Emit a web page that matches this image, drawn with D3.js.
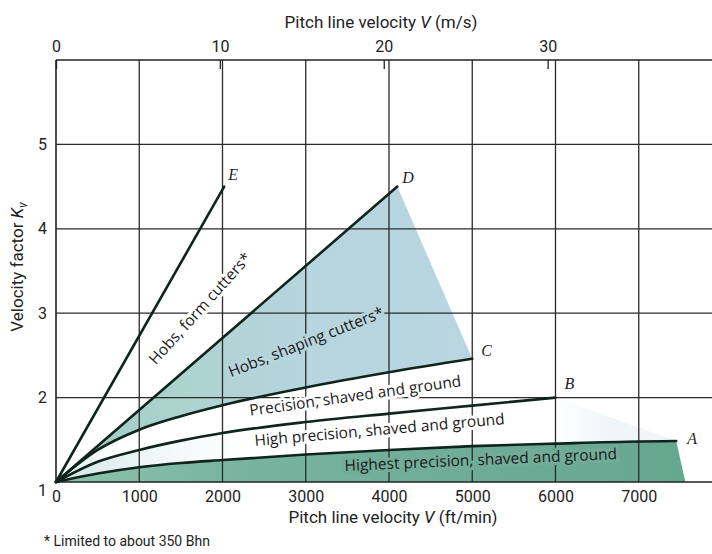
<!DOCTYPE html>
<html><head><meta charset="utf-8">
<script src="https://cdn.jsdelivr.net/npm/d3@7"></script>
<style>
body{margin:0;background:#fff;}
svg{display:block;}
text{font-family:Roboto,"Liberation Sans",sans-serif;fill:#222;}
.lbl{font-family:"Open Sans",sans-serif;font-size:15.5px;fill:#1a1a1a;}
.pt{font-family:"Liberation Serif",serif;font-style:italic;font-size:16px;fill:#1e1e1e;}
</style></head><body>
<svg id="c" width="712" height="554"></svg>
<script>
// ---- data ----
const xTicksFtMin = [0,1000,2000,3000,4000,5000,6000,7000];
const xTicksMs = [0,10,20,30];
const yTicks = [1,2,3,4,5];
// curve A: highest precision
const vA  = [0,500,1000,1500,2000,3000,4000,5000,6000,7000,7450];
const kvA = [1,1.10,1.175,1.225,1.26,1.325,1.38,1.425,1.455,1.48,1.485];
// curve B: high precision
const vB  = [0,500,1000,1500,2000,3000,4000,5000,6000];
const kvB = [1,1.24,1.38,1.49,1.58,1.71,1.81,1.905,2.0];
// curve C: precision
const vC  = [0,500,1000,1500,2000,3000,4000,5000];
const kvC = [1,1.38,1.62,1.78,1.91,2.12,2.30,2.46];
// curve D: hobs, shaping cutters
const vD  = [0,4100];
const kvD = [1,4.5];
// curve E: hobs, form cutters
const vE  = [0,2020];
const kvE = [1,4.5];
// end of shaded "highest precision" zone on the axis
const vAfoot = 7560, kvAfoot = 1;

const svg = d3.select("#c");
const x = d3.scaleLinear().domain([0,8000]).range([56,722]);
const xMs = d3.scaleLinear().domain([0,8000/196.85]).range([56,722]);
const y = d3.scaleLinear().domain([1,6]).range([482,60]);

const pts = (vs,ks)=>vs.map((v,i)=>[v,ks[i]]);
const A = pts(vA,kvA), B = pts(vB,kvB), C = pts(vC,kvC), D = pts(vD,kvD), E = pts(vE,kvE);
const P = d=>[x(d[0]),y(d[1])];

const defs = svg.append("defs");
function grad(id, stops){
  const g = defs.append("linearGradient").attr("id",id).attr("gradientUnits","userSpaceOnUse")
    .attr("x1",x(0)).attr("x2",x(7600)).attr("y1",0).attr("y2",0);
  stops.forEach(s=>g.append("stop").attr("offset",s[0]).attr("stop-color",s[1]));
}
grad("gA",[[0,"#8cc2ae"],[0.3,"#78b39f"],[0.7,"#6dab96"],[1,"#66a790"]]);
grad("gDC",[[0,"#9ccbbf"],[0.2,"#add3cf"],[0.4,"#b6d5de"],[0.7,"#b9d6e2"],[1,"#bcd7e3"]]);
grad("gBA",[[0,"#cfe6e6"],[0.14,"#eef6f6"],[0.3,"#ffffff"],[0.78,"#ffffff"],[0.88,"#f0f5f8"],[1,"#f2f6f9"]]);
grad("gCB",[[0,"#dcecec"],[0.1,"#ffffff"],[1,"#ffffff"]]);

const curve = d3.line().x(d=>x(d[0])).y(d=>y(d[1])).curve(d3.curveMonotoneX);
function sample(arr){
  const out=[];
  const p = document.createElementNS("http://www.w3.org/2000/svg","path");
  p.setAttribute("d", curve(arr)); svg.node().appendChild(p);
  const L = p.getTotalLength();
  for(let i=0;i<=200;i++){const q=p.getPointAtLength(L*i/200); out.push([q.x,q.y]);}
  p.remove(); return out;
}
const sA = sample(A), sB = sample(B), sC = sample(C);
const sD = D.map(P);
const poly = a=>"M"+a.map(p=>p.join(",")).join("L")+"Z";

const fills = svg.append("g");
fills.append("path").attr("d", poly(sA.concat([P([vAfoot,kvAfoot]), P([0,1])]))).attr("fill","url(#gA)");
fills.append("path").attr("d", poly(sB.concat(sA.slice().reverse()))).attr("fill","url(#gBA)");
fills.append("path").attr("d", poly(sC.concat(sB.slice().reverse()))).attr("fill","url(#gCB)");
fills.append("path").attr("d", poly(sD.concat(sC.slice().reverse()))).attr("fill","url(#gDC)");

// grid
const grid = svg.append("g").attr("stroke","#2b2b2b").attr("stroke-width",1.3);
d3.range(1000,8001,1000).forEach(v=>grid.append("line").attr("x1",x(v)).attr("x2",x(v)).attr("y1",y(1)).attr("y2",y(6)));
[2,3,4,5].forEach(k=>grid.append("line").attr("x1",x(0)).attr("x2",x(8000)).attr("y1",y(k)).attr("y2",y(k)));

// curve labels with halos (gaps in grid)
function label(txt, cx, cy, ang, halo){
  return svg.append("text").attr("class","lbl").attr("text-anchor","middle")
    .attr("transform",`translate(${cx},${cy}) rotate(${ang})`)
    .attr("stroke",halo).attr("stroke-width",6).attr("stroke-linejoin","round")
    .attr("paint-order","stroke").text(txt);
}
label("Hobs, form cutters*",204,312,-48,"#ffffff");
label("Hobs, shaping cutters*",308,347,-21.5,"#b7d5dd");
label("Precision, shaved and ground",356,401,-8,"#ffffff");
label("High precision, shaved and ground",380,435,-5,"#ffffff");
label("Highest precision, shaved and ground",481,465,-2.5,"#72ad99");

// borders
const bd = svg.append("g").attr("stroke","#222").attr("stroke-width",1.6);
bd.append("line").attr("x1",x(0)).attr("x2",x(8000)).attr("y1",y(1)).attr("y2",y(1));
bd.append("line").attr("x1",x(0)).attr("x2",x(8000)).attr("y1",y(6)).attr("y2",y(6));
bd.append("line").attr("x1",x(0)).attr("x2",x(0)).attr("y1",y(1)).attr("y2",y(6));

// curves
const cg = svg.append("g").attr("fill","none").attr("stroke","#10241c").attr("stroke-width",2.6).attr("stroke-linecap","round");
[A,B,C,D,E].forEach(c=>cg.append("path").attr("d",curve(c)));

// point letters
const ptl = [["A",vA[vA.length-1],kvA[kvA.length-1],11,3],["B",vB[vB.length-1],kvB[kvB.length-1],9,-9],
  ["C",vC[vC.length-1],kvC[kvC.length-1],9,-3],["D",vD[1],kvD[1],5,-4],["E",vE[1],kvE[1],4,-7]];
ptl.forEach(p=>svg.append("text").attr("class","pt").attr("x",x(p[1])+p[3]).attr("y",y(p[2])+p[4]).text(p[0]));

// axes
const axB = svg.append("g").attr("transform",`translate(0,${y(1)})`)
  .call(d3.axisBottom(x).tickValues(xTicksFtMin).tickSize(0).tickPadding(9).tickFormat(d3.format("d")));
const axT = svg.append("g").attr("transform",`translate(0,${y(6)})`)
  .call(d3.axisTop(xMs).tickValues(xTicksMs).tickSize(-9).tickPadding(8).tickFormat(d3.format("d")));
const axL = svg.append("g").attr("transform",`translate(${x(0)},0)`)
  .call(d3.axisLeft(y).tickValues(yTicks).tickSize(0).tickPadding(9).tickFormat(d3.format("d")));
[axB,axT,axL].forEach(a=>{a.select(".domain").remove();a.selectAll("text").attr("font-size",16).attr("font-family","Roboto").attr("fill","#222");});
axT.selectAll(".tick line").attr("stroke","#222").attr("stroke-width",1.3);
axL.selectAll(".tick").filter(d=>d===1).select("text").attr("dy","0.85em");

// titles
const t1 = svg.append("text").attr("x",381).attr("y",28).attr("text-anchor","middle").attr("font-size",17);
t1.append("tspan").text("Pitch line velocity ");
t1.append("tspan").attr("font-style","italic").text("V");
t1.append("tspan").text(" (m/s)");
const t2 = svg.append("text").attr("x",393).attr("y",523).attr("text-anchor","middle").attr("font-size",17);
t2.append("tspan").text("Pitch line velocity ");
t2.append("tspan").attr("font-style","italic").text("V");
t2.append("tspan").text(" (ft/min)");
const t3 = svg.append("text").attr("transform","translate(23,267) rotate(-90)").attr("text-anchor","middle").attr("font-size",17);
t3.append("tspan").text("Velocity factor ");
t3.append("tspan").attr("font-style","italic").text("K");
t3.append("tspan").attr("font-style","italic").attr("font-size",12).attr("dy",4).text("v");
svg.append("text").attr("x",44).attr("y",546).attr("font-size",14).text("* Limited to about 350 Bhn");
</script></body></html>
